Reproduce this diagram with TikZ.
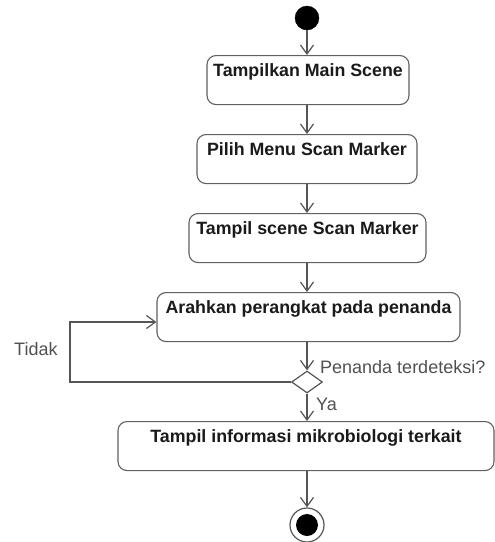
\documentclass[tikz,border=0pt]{standalone}
\usepackage{fontspec}
\setmainfont{Liberation Sans}
\usetikzlibrary{arrows.meta,shapes.geometric,calc}
\definecolor{linegray}{HTML}{555555}
\definecolor{boxgray}{HTML}{606060}
\definecolor{labelgray}{HTML}{505050}
\definecolor{textdark}{HTML}{1A1A1A}
\begin{document}
\begin{tikzpicture}[x=1pt,y=-1pt,
  action/.style={draw=boxgray, line width=1.1pt, rounded corners=9pt,
    anchor=north, inner xsep=0pt, inner ysep=0pt,
    text height=21pt, text depth=28pt, text=textdark,
    font=\fontsize{17.8}{20}\selectfont\bfseries},
  flow/.style={draw=linegray, line width=1.2pt,
    -{Straight Barb[length=9pt,width=13pt,line width=1.2pt]}},
  guard/.style={text=labelgray, font=\fontsize{18}{20}\selectfont, inner sep=0pt}]
  \useasboundingbox (0,0) rectangle (495,542);

  % initial and final states
  \node (start) [circle, fill=black, draw=black, minimum size=24pt, inner sep=0pt] at (307,18) {};
  \node (stop) [circle, draw=linegray, line width=1.2pt, minimum size=34pt, inner sep=0pt] at (307,525) {};
  \node (stopdot) [circle, fill=black, minimum size=22pt, inner sep=0pt] at (stop.center) {};

  % actions
  \node (a1) [action, minimum width=202pt] at (308,55) {Tampilkan Main Scene};
  \node (a2) [action, minimum width=220pt] at (307,134) {Pilih Menu Scan Marker};
  \node (a3) [action, minimum width=237pt] at (307.5,213) {Tampil scene Scan Marker};
  \node (a4) [action, minimum width=303pt] at (308.5,292) {Arahkan perangkat pada penanda};
  \node (a5) [action, minimum width=376pt] at (306,421) {Tampil informasi mikrobiologi terkait};

  % decision
  \node (dec) [diamond, draw=linegray, line width=1.2pt, aspect=1.4,
    minimum width=31pt, minimum height=22pt, inner sep=0pt] at (307,382) {};

  % control flow
  \draw[flow] (start) -- (start |- a1.north);
  \draw[flow] (a1.south -| start) -- (start |- a2.north);
  \draw[flow] (a2.south -| start) -- (start |- a3.north);
  \draw[flow] (a3.south -| start) -- (start |- a4.north);
  \draw[flow] (a4.south -| dec) -- (dec.north);
  \draw[flow] (dec.south) -- (dec |- a5.north);
  \draw[flow] (a5.south -| stop) -- (stop.north);

  % loop back when no marker is detected
  \coordinate (loopcorner) at (70,382);
  \draw[flow] (dec.west) -- (loopcorner) -- (70,322) -- (a4.west |- 0,322);

  % guard labels
  \node (tidak) [guard, anchor=base west] at (14,355) {Tidak};
  \node (cond) [guard, anchor=base west] at (320,373) {Penanda terdeteksi?};
  \node (ya) [guard, anchor=base west] at (316,410) {Ya};
\end{tikzpicture}
\end{document}
